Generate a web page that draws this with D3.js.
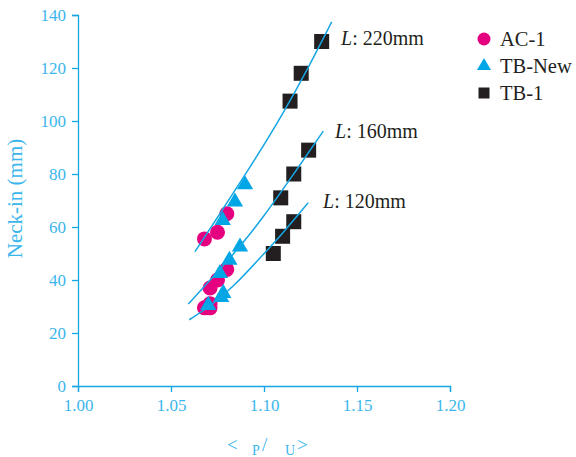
<!DOCTYPE html>
<html>
<head>
<meta charset="utf-8">
<script src="https://cdn.jsdelivr.net/npm/d3@7"></script>
<style>
  html, body { margin: 0; padding: 0; background: #fff; }
  svg { display: block; }
</style>
</head>
<body>
<svg id="chart" width="576" height="457"></svg>
<script>
// Axis tick values
const xTicks = [1.00, 1.05, 1.10, 1.15, 1.20];
const yTicks = [0, 20, 40, 60, 80, 100, 120, 140];

// Measured points: [strain ratio, neck-in (mm)]
const ac1 = [
  [1.068, 55.5], [1.075, 58], [1.080, 65],
  [1.068, 29.5], [1.071, 29.5], [1.071, 31], [1.071, 37], [1.075, 40], [1.080, 44]
];
const tbNew = [
  [1.0778, 62.5], [1.0844, 69.5], [1.0898, 76],
  [1.0700, 30.5], [1.0770, 33.5], [1.0781, 35], [1.0763, 42.5], [1.0814, 47.5], [1.0871, 52.5]
];
const tb1 = [
  [1.105, 50], [1.110, 56.5], [1.116, 62],
  [1.109, 71], [1.116, 80], [1.124, 89],
  [1.114, 107.5], [1.120, 118], [1.131, 130]
];

// Trend curves for each length L
const fit220 = [[1.0629, 50.7], [1.0800, 69], [1.0952, 85.5], [1.1100, 102.5], [1.1230, 119], [1.1364, 137.4]];
const fit160 = [[1.0593, 30.9], [1.0750, 43], [1.0871, 52.6], [1.1000, 64], [1.1150, 79], [1.1319, 96.2]];
const fit120 = [[1.0598, 25], [1.0720, 30.5], [1.0835, 37.5], [1.0952, 46.3], [1.1100, 57.5], [1.1238, 69.2]];
const fitLabels = ["220mm", "160mm", "120mm"];

const svg = d3.select("#chart");
const margin = { left: 78, top: 15, right: 126, bottom: 71 };
const W = 576, H = 457;

const x = d3.scaleLinear().domain([1.00, 1.20]).range([margin.left, W - margin.right]);
const y = d3.scaleLinear().domain([0, 140]).range([H - margin.bottom, margin.top]);

const axisColor = "#14a6e4";
const labelColor = "#3bb6ec";
const serif = "'Liberation Serif', 'DejaVu Serif', serif";

// Axes
const gx = svg.append("g")
  .attr("transform", `translate(0,${y(0)})`)
  .call(d3.axisBottom(x).tickValues(xTicks).tickFormat(d3.format(".2f")).tickSizeOuter(0).tickSize(6).tickPadding(7));
const gy = svg.append("g")
  .attr("transform", `translate(${x(1.00)},0)`)
  .call(d3.axisLeft(y).tickValues(yTicks).tickSizeOuter(0).tickSize(6).tickPadding(6));

[gx, gy].forEach(g => {
  g.select(".domain").attr("stroke", axisColor).attr("stroke-width", 1.3);
  g.selectAll(".tick line").attr("stroke", axisColor).attr("stroke-width", 1.3);
  g.selectAll(".tick text").attr("fill", labelColor).attr("font-family", serif).attr("font-size", 17);
});

// Y axis title
svg.append("text")
  .attr("transform", `translate(22,${y(70) - 2}) rotate(-90)`)
  .attr("text-anchor", "middle")
  .attr("fill", labelColor)
  .attr("font-family", serif)
  .attr("font-size", 21)
  .text("Neck-in (mm)");

// X axis title
const xt = svg.append("text")
  .attr("y", 451)
  .attr("fill", labelColor)
  .attr("font-family", serif)
  .attr("font-size", 19);
xt.append("tspan").attr("x", 227).text("<");
xt.append("tspan").attr("x", 252).attr("dy", 4).attr("font-size", 14).text("P");
xt.append("tspan").attr("x", 262).attr("dy", -4).text("/");
xt.append("tspan").attr("x", 285).attr("dy", 4).attr("font-size", 14).text("U");
xt.append("tspan").attr("x", 297).attr("dy", -4).text(">");

// Markers
const plot = svg.append("g");
plot.selectAll("rect.tb1").data(tb1).enter().append("rect")
  .attr("x", d => x(d[0]) - 7.5).attr("y", d => y(d[1]) - 7.5)
  .attr("width", 15).attr("height", 15)
  .attr("fill", "#231f20");

plot.selectAll("circle.ac1").data(ac1).enter().append("circle")
  .attr("cx", d => x(d[0])).attr("cy", d => y(d[1]))
  .attr("r", 7.5)
  .attr("fill", "#e5007f");

const tri = d3.symbol().type(d3.symbolTriangle).size(115);
plot.selectAll("path.tbnew").data(tbNew).enter().append("path")
  .attr("transform", d => `translate(${x(d[0])},${y(d[1])})`)
  .attr("d", tri)
  .attr("fill", "#00a6e6");

// Trend curves
const line = d3.line().x(d => x(d[0])).y(d => y(d[1])).curve(d3.curveBasis);
[fit220, fit160, fit120].forEach(f => {
  svg.append("path").datum(f)
    .attr("d", line)
    .attr("fill", "none")
    .attr("stroke", "#14a6e4")
    .attr("stroke-width", 1.5);
});

// Curve labels
const labelPos = [[341, 45], [335, 138], [323, 208]];
fitLabels.forEach((t, i) => {
  const tx = svg.append("text")
    .attr("x", labelPos[i][0]).attr("y", labelPos[i][1])
    .attr("fill", "#231f20")
    .attr("font-family", serif)
    .attr("font-size", 20);
  tx.append("tspan").attr("font-style", "italic").text("L");
  tx.append("tspan").text(": " + t);
});

// Legend
const legendItems = ["AC-1", "TB-New", "TB-1"];
const lg = svg.append("g");
legendItems.forEach((name, i) => {
  const ly = 39 + i * 27;
  if (i === 0) {
    lg.append("circle").attr("cx", 484).attr("cy", ly).attr("r", 6.5).attr("fill", "#e5007f");
  } else if (i === 1) {
    lg.append("path").attr("transform", `translate(484,${ly})`)
      .attr("d", d3.symbol().type(d3.symbolTriangle).size(85)).attr("fill", "#00a6e6");
  } else {
    lg.append("rect").attr("x", 478.5).attr("y", ly - 5.5).attr("width", 11).attr("height", 11).attr("fill", "#231f20");
  }
  lg.append("text")
    .attr("x", 500).attr("y", ly + 7)
    .attr("fill", "#231f20")
    .attr("font-family", serif)
    .attr("font-size", 20.5)
    .text(name);
});
</script>
</body>
</html>
